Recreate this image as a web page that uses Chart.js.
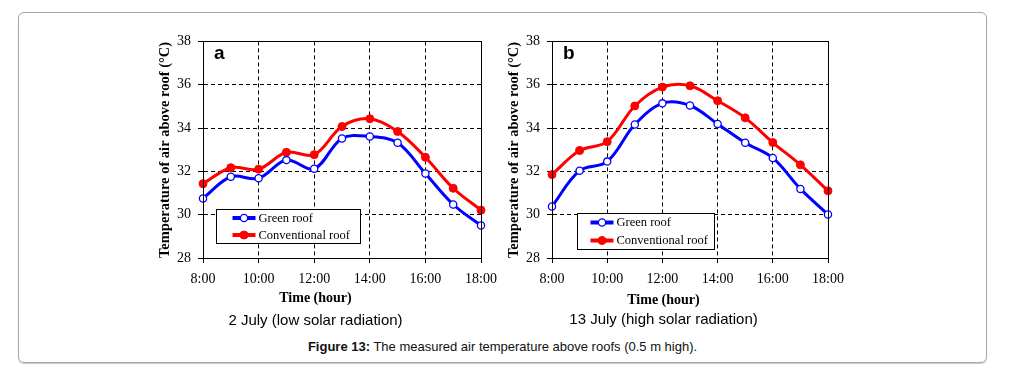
<!DOCTYPE html>
<html lang="en">
<head>
  <meta charset="UTF-8">
  <title>Figure 13: measured air temperature above roofs</title>
  <script src="https://cdn.jsdelivr.net/npm/chart.js"></script>
  <style>
    body { margin: 0; background: #fff; width: 1012px; height: 379px; position: relative; overflow: hidden; }
    #frame { position: absolute; left: 18px; top: 12px; width: 967px; height: 349px;
             border: 1px solid #a6a6a6; border-radius: 6px; box-shadow: 0 1px 1px #c8c8c8; }
    canvas { position: absolute; }
    #chartA { left: 150px; top: 26px; }
    #chartB { left: 499px; top: 26px; }
    #caption { position: absolute; left: 18px; width: 969px; top: 339px; text-align: center;
               font: 13px "Liberation Sans", Arial, sans-serif; color: #111; line-height: 16px; }
  </style>
</head>
<body>
  <div id="frame"></div>
  <canvas id="chartA" width="356" height="304"></canvas>
  <canvas id="chartB" width="376" height="303"></canvas>
  <div id="caption"><b>Figure 13:</b> The measured air temperature above roofs (0.5 m high).</div>

  <script>
    // hours of measurement and x tick labels
    const hours = [8, 9, 10, 11, 12, 13, 14, 15, 16, 17, 18];
    const xTickLabels = ['8:00', '10:00', '12:00', '14:00', '16:00', '18:00'];
    const seriesNames = ['Green roof', 'Conventional roof'];

    // (a) 2 July - low solar radiation
    const greenJul2 = [30.75, 31.75, 31.68, 32.52, 32.12, 33.52, 33.61, 33.32, 31.9, 30.47, 29.5];
    const convJul2  = [31.43, 32.17, 32.1, 32.88, 32.77, 34.07, 34.43, 33.84, 32.65, 31.22, 30.21];

    // (b) 13 July - high solar radiation
    const greenJul13 = [30.38, 32.03, 32.45, 34.16, 35.14, 35.04, 34.19, 33.32, 32.62, 31.19, 30.01];
    const convJul13  = [31.85, 32.96, 33.37, 35.02, 35.89, 35.95, 35.26, 34.47, 33.33, 32.3, 31.1];

    Chart.defaults.font.family = '"Liberation Serif", "Times New Roman", serif';
    Chart.defaults.color = '#000';

    function toPoints(vals) {
      return hours.map((h, i) => ({ x: h, y: vals[i] }));
    }

    // solid frame round the plot, panel letter and boxed legend inside the plot
    const framePlugin = {
      id: 'frameLegend',
      afterDraw(chart, args, opts) {
        const { ctx, chartArea: ca } = chart;
        ctx.save();
        ctx.strokeStyle = '#000';
        ctx.lineWidth = 1;
        ctx.setLineDash([]);
        ctx.strokeRect(Math.round(ca.left) + 0.5, Math.round(ca.top) + 0.5,
                       Math.round(ca.width), Math.round(ca.height));

        ctx.font = 'bold 19px "Liberation Sans", Arial, sans-serif';
        ctx.fillStyle = '#000';
        ctx.textBaseline = 'alphabetic';
        ctx.fillText(opts.panel, ca.left + 11, ca.top + 18);

        const lx = Math.round(ca.left + opts.left) + 0.5;
        const ly = Math.round(ca.top + opts.top) + 0.5;
        ctx.fillStyle = '#fff';
        ctx.fillRect(lx, ly, opts.width, opts.height);
        ctx.strokeRect(lx, ly, opts.width, opts.height);

        const n = chart.data.datasets.length;
        chart.data.datasets.forEach((ds, i) => {
          const cy = ly + opts.height * (i + 0.5) / n;
          const x0 = lx + opts.sampleX;
          ctx.strokeStyle = ds.borderColor;
          ctx.lineWidth = 4;
          ctx.beginPath();
          ctx.moveTo(x0, cy);
          ctx.lineTo(x0 + 23, cy);
          ctx.stroke();
          ctx.beginPath();
          ctx.arc(x0 + 11.5, cy, ds.pointRadius, 0, Math.PI * 2);
          ctx.fillStyle = ds.pointBackgroundColor;
          ctx.fill();
          ctx.lineWidth = ds.pointBorderWidth;
          ctx.strokeStyle = ds.pointBorderColor;
          ctx.stroke();
          ctx.fillStyle = '#000';
          ctx.font = '12.5px "Liberation Serif", "Times New Roman", serif';
          ctx.textBaseline = 'middle';
          ctx.fillText(ds.label, x0 + 26, cy + 0.5);
        });
        ctx.restore();
      }
    };

    function makeChart(id, green, conv, cfg) {
      return new Chart(document.getElementById(id), {
        type: 'line',
        data: {
          datasets: [{
            label: seriesNames[0],
            data: toPoints(green),
            borderColor: '#0000ff',
            borderWidth: 3,
            pointRadius: 3.6,
            pointBorderWidth: 1.3,
            pointBorderColor: '#0000ff',
            pointBackgroundColor: '#ffffff',
            tension: 0.35,
            clip: false
          }, {
            label: seriesNames[1],
            data: toPoints(conv),
            borderColor: '#ff0000',
            borderWidth: 3,
            pointRadius: 4,
            pointBorderWidth: 1,
            pointBorderColor: '#ff0000',
            pointBackgroundColor: '#ff0000',
            tension: 0.35,
            clip: false
          }]
        },
        options: {
          responsive: false,
          animation: false,
          layout: { padding: { top: 10, right: cfg.padRight, left: 0, bottom: 0 } },
          plugins: {
            legend: { display: false },
            tooltip: { enabled: false },
            subtitle: {
              display: true, position: 'bottom', text: 'Time (hour)',
              color: '#000', padding: 0,
              font: { family: '"Liberation Serif", "Times New Roman", serif', size: 14, weight: 'bold' }
            },
            title: {
              display: true, position: 'bottom', text: cfg.caption,
              color: '#000', padding: { top: cfg.titlePad, bottom: 0 },
              font: { family: '"Liberation Sans", Arial, sans-serif', size: 15, weight: 'normal' }
            },
            frameLegend: cfg.legend
          },
          scales: {
            x: {
              type: 'linear', min: 8, max: 18,
              afterFit: s => { s.height = cfg.xHeight; },
              ticks: {
                stepSize: 2, padding: 8, maxRotation: 0,
                font: { size: 14 },
                callback: v => xTickLabels[(v - 8) / 2]
              },
              grid: { color: '#000', lineWidth: 1, tickLength: 5, tickColor: '#000' },
              border: { color: '#000', width: 1, dash: [4, 3] }
            },
            y: {
              min: 28, max: 38,
              afterFit: s => { s.width = 53; },
              ticks: { stepSize: 2, padding: 7, font: { size: 14 } },
              title: {
                display: true, text: 'Temperature of air above roof (°C)',
                align: 'start',
                padding: { top: cfg.yTitlePad, bottom: 0 },
                font: { size: 14.5, weight: 'bold' }
              },
              grid: { color: '#000', lineWidth: 1, tickLength: 5, tickColor: '#000' },
              border: { color: '#000', width: 1, dash: [4, 3] }
            }
          }
        },
        plugins: [framePlugin]
      });
    }

    makeChart('chartA', greenJul2, convJul2, {
      caption: '2 July (low solar radiation)',
      padRight: 25, xHeight: 31.6, titlePad: 5.6, yTitlePad: 6.6,
      legend: { panel: 'a', left: 13, top: 168, width: 144, height: 34, sampleX: 16 }
    });

    makeChart('chartB', greenJul13, convJul13, {
      caption: '13 July (high solar radiation)',
      padRight: 47, xHeight: 33.6, titlePad: 2.6, yTitlePad: 6.1,
      legend: { panel: 'b', left: 25, top: 172, width: 137, height: 36, sampleX: 13 }
    });
  </script>
</body>
</html>
